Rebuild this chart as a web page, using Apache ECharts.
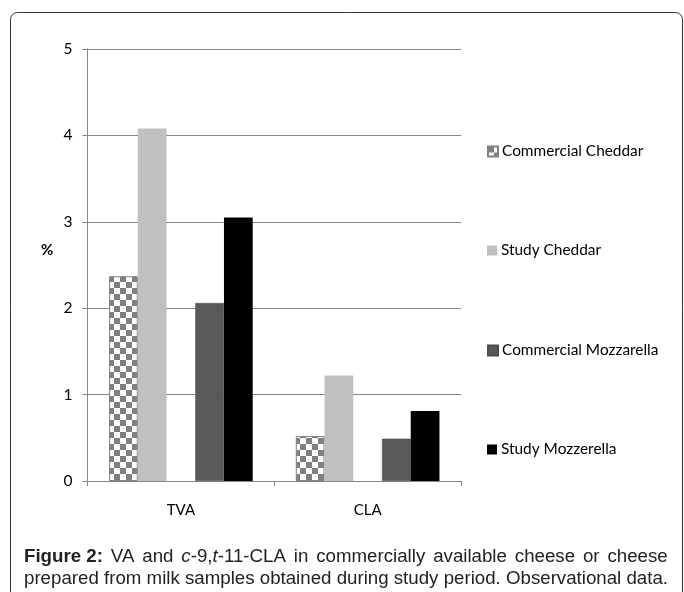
<!DOCTYPE html>
<html>
<head>
<meta charset="utf-8">
<script src="https://cdn.jsdelivr.net/npm/echarts@6/dist/echarts.min.js"></script>
<style>
html,body{margin:0;padding:0;background:#fff;}
#chart{width:684px;height:592px;}
</style>
</head>
<body>
<div id="chart"></div>
<script>
const categories = ['TVA', 'CLA'];
const seriesNames = ['Commercial Cheddar', 'Study Cheddar', 'Commercial Mozzarella', 'Study Mozzerella'];
const commercialCheddar = [2.37, 0.52];
const studyCheddar = [4.08, 1.22];
const commercialMozzarella = [2.06, 0.49];
const studyMozzerella = [3.05, 0.81];
const yTicks = [0, 1, 2, 3, 4, 5];

// checkered pattern
const pc = document.createElement('canvas');
pc.width = 12; pc.height = 12;
const pctx = pc.getContext('2d');
pctx.fillStyle = '#ffffff'; pctx.fillRect(0, 0, 12, 12);
pctx.fillStyle = '#808080';
pctx.fillRect(0, 0, 6, 6);
pctx.fillRect(6, 6, 6, 6);
const checker = { image: pc, repeat: 'repeat' };

const chart = echarts.init(document.getElementById('chart'), null, { renderer: 'canvas' });
const FONT = 'Lato';
const legendCenters = [148, 247, 347, 446];

const CAP = 18.7;
const capRich = {
  b: { fontFamily: 'Liberation Sans', fontSize: CAP, fontWeight: 'bold', fill: '#222' },
  i: { fontFamily: 'Liberation Sans', fontSize: CAP, fontStyle: 'italic', fill: '#222' },
  w: { width: 7.9 }
};
const line1 = ['{b|Figure 2:}', 'VA', 'and', '{i|c}-9,{i|t}-11-CLA', 'in', 'commercially', 'available', 'cheese', 'or', 'cheese'].join('{w| }');

const option = {
  animation: false,
  grid: { left: 87.5, right: 223, top: 49, bottom: 111, containLabel: false },
  xAxis: {
    type: 'category',
    data: categories,
    axisLine: { lineStyle: { color: '#868686', width: 1 } },
    axisTick: { show: true, length: 5, lineStyle: { color: '#868686' } },
    axisLabel: { fontFamily: FONT, fontSize: 15, color: '#000', margin: 22 }
  },
  yAxis: {
    type: 'value',
    min: yTicks[0], max: yTicks[yTicks.length - 1], interval: 1,
    axisLine: { show: true, lineStyle: { color: '#868686', width: 1 } },
    axisTick: { show: true, length: 5, lineStyle: { color: '#868686' } },
    splitLine: { lineStyle: { color: '#868686', width: 1 } },
    axisLabel: { fontFamily: FONT, fontSize: 15.5, color: '#000', margin: 15 }
  },
  legend: seriesNames.map((n, i) => ({
    data: [n],
    orient: 'vertical',
    left: 482,
    top: legendCenters[i] - 9,
    itemWidth: 10, itemHeight: 10,
    itemGap: 0,
    icon: 'rect',
    selectedMode: false,
    textStyle: { fontFamily: FONT, fontSize: 15.4, color: '#000', padding: [0, 0, 0, -1] }
  })),
  series: [
    { name: seriesNames[0], type: 'bar', data: commercialCheddar, barGap: '0%', barCategoryGap: '23.08%',
      itemStyle: { color: checker, borderColor: '#808080', borderWidth: 1 } },
    { name: seriesNames[1], type: 'bar', data: studyCheddar,
      itemStyle: { color: '#c0c0c0' } },
    { name: 'blank', type: 'bar', data: [null, null] },
    { name: seriesNames[2], type: 'bar', data: commercialMozzarella,
      itemStyle: { color: '#595959', borderColor: '#4d4d4d', borderWidth: 0.5 } },
    { name: seriesNames[3], type: 'bar', data: studyMozzerella,
      itemStyle: { color: '#000000' } }
  ],
  graphic: [
    { type: 'rect', shape: { x: 10.5, y: 12.5, width: 672, height: 620, r: 7 },
      style: { fill: 'none', stroke: '#333', lineWidth: 1 }, z: -1 },
    { type: 'text', left: 41, top: 243,
      style: { text: '%', fontFamily: FONT, fontSize: 15, fontWeight: 'bold', fill: '#000' } },
    { type: 'text', left: 24, top: 546,
      style: {
        text: line1 + '\nprepared from milk samples obtained during study period. Observational data.',
        fontFamily: 'Liberation Sans', fontSize: CAP, lineHeight: 22, fill: '#222',
        rich: capRich
      } }
  ]
};
chart.setOption(option);
</script>
</body>
</html>
